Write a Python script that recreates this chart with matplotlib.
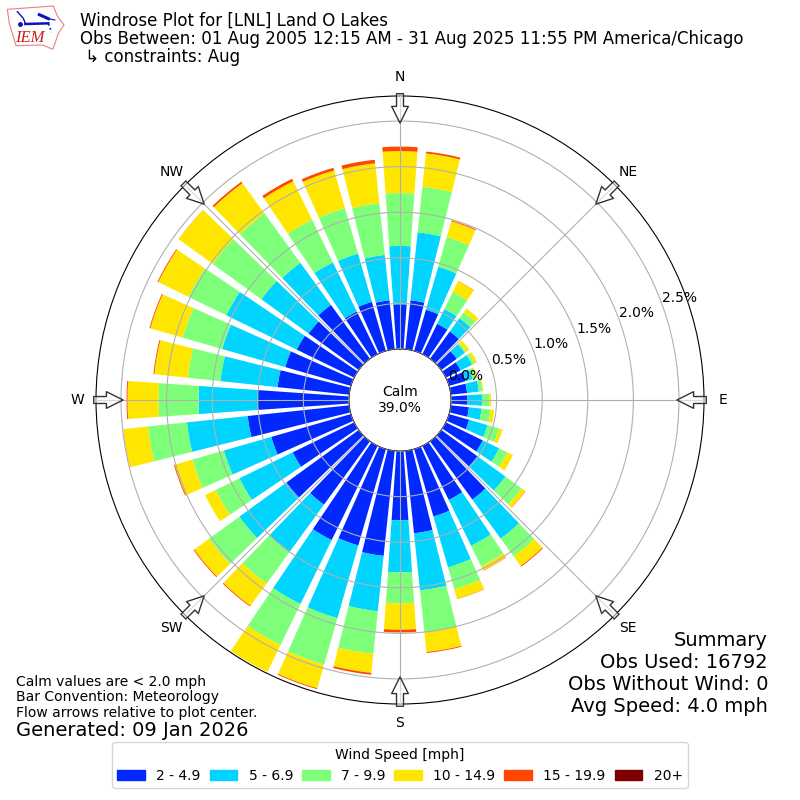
import matplotlib
matplotlib.use("Agg")
import matplotlib.pyplot as plt
import numpy as np
from matplotlib.patches import Patch, Polygon

# direction the wind is coming from, degrees
directions = list(range(10, 370, 10))

speed_2_5 = [.54, .47, .37, .37, .21, .18, .19, .18, .18, .20, .23, .45,
             .49, .79, .66, .77, .91, .76, 1.16, 1.10, 1.15, .86, .98, .75,
             .91, 1.12, 1.00, .79, .75, .70, .68, .73, .52, .56, .54, .49]
speed_5_7 = [.75, .49, .18, .18, .11, .14, .08, .13, .16, .14, .21, .20,
             .38, .53, .56, .58, .63, .57, .61, .83, .78, .64, .64, .65,
             .54, .67, .65, .63, .72, .86, .64, .57, .60, .55, .50, .64]
speed_7_10 = [.50, .34, .21, .08, .02, .03, .04, .04, .08, .10, .13, .10,
              .22, .24, .25, .25, .46, .34, .47, .53, .50, .43, .41, .29,
              .36, .43, .44, .36, .45, .46, .66, .67, .52, .52, .57, .58]
speed_10_15 = [.37, .18, .13, .05, .04, .03, .01, .01, .02, .04, .04, .07,
               .05, .13, .05, .11, .22, .29, .21, .27, .33, .30, .20, .13,
               .20, .27, .34, .37, .37, .37, .46, .41, .47, .43, .44, .46]
speed_15_20 = [.02, .01, .003, 0, 0, 0, 0, 0, 0, 0, 0, 0,
               .003, .01, .004, .003, .01, .03, .02, .01, 0, .01, .01, 0,
               .01, .002, .01, .01, .01, .01, .002, .02, .03, .03, .04, .05]
speed_20 = [0] * 36

bins = [speed_2_5, speed_5_7, speed_7_10, speed_10_15, speed_15_20, speed_20]
labels = ["2 - 4.9", "5 - 6.9", "7 - 9.9", "10 - 14.9", "15 - 19.9", "20+"]
colors = ["#0028ff", "#00d4ff", "#7dff7a", "#ffe600", "#ff4700", "#800000"]

compass = ["N", "NE", "E", "SE", "S", "SW", "W", "NW"]
rticks = [0, 0.5, 1.0, 1.5, 2.0, 2.5]

fig = plt.figure(figsize=(8, 8), dpi=100)
ax = fig.add_axes([96 / 800, 96 / 800, 608 / 800, 608 / 800], projection="polar")
ax.set_theta_zero_location("N")
ax.set_theta_direction(-1)
ax.set_axisbelow(False)

theta = np.radians(directions)
bottom = np.zeros(36)
for vals, color in zip(bins, colors):
    ax.bar(theta, vals, width=np.radians(8), bottom=bottom, color=color, linewidth=0, zorder=2)
    bottom += np.array(vals)

ax.set_rorigin(-0.56)
ax.set_ylim(0, 2.775)
ax.set_yticks(rticks)
ax.set_yticklabels([f"{t:.1f}%" for t in rticks])
ax.set_rlabel_position(70)
ax.set_xticks(np.radians(np.arange(0, 360, 45)))
ax.set_xticklabels(compass)
ax.tick_params(axis="x", pad=3)
ax.grid(True, color="#b0b0b0", linewidth=0.8)

# hollow arrows pointing at the centre
for t in np.radians(np.arange(0, 360, 45)):
    ax.annotate("", xy=(t, 2.478), xytext=(t, 2.8), annotation_clip=False, zorder=5,
                arrowprops=dict(facecolor=(1, 1, 1, 0.5), edgecolor="#333333", linewidth=1,
                                width=5, headwidth=12, headlength=12, shrink=0))

ax.text(0.5, 0.5, "Calm\n39.0%", transform=ax.transAxes, ha="center", va="center", fontsize=10, zorder=6)

fig.text(80 / 800, 1 - 12 / 800, "Windrose Plot for [LNL] Land O Lakes\n"
         "Obs Between: 01 Aug 2005 12:15 AM - 31 Aug 2025 11:55 PM America/Chicago\n"
         " ↳ constraints: Aug", fontsize=12, va="top", linespacing=1.0)
fig.text(16 / 800, 1 - 720 / 800, "Calm values are < 2.0 mph\nBar Convention: Meteorology\n"
         "Flow arrows relative to plot center.", fontsize=10, va="bottom", linespacing=1.15)
fig.text(16 / 800, 1 - 740 / 800, "Generated: 09 Jan 2026", fontsize=14, va="bottom")
fig.text(768 / 800, 1 - 716 / 800, "Summary\nObs Used: 16792\nObs Without Wind: 0\nAvg Speed: 4.0 mph",
         fontsize=14, ha="right", va="bottom", linespacing=1.19)

handles = [Patch(color=c) for c in colors]
fig.legend(handles, labels, title="Wind Speed [mph]", loc="lower center", ncol=6,
           bbox_to_anchor=(0.5, 0.006), fontsize=10, title_fontsize=10, columnspacing=0.65)

# IEM logo, drawn roughly
logo = fig.add_axes([0, 1 - 70 / 800, 260 / 800, 70 / 800])
logo.set_xlim(0, 780)
logo.set_ylim(210, 0)
logo.axis("off")
outline = [(22, 28), (160, 18), (172, 48), (192, 75), (175, 100), (165, 130), (158, 148), (128, 135), (48, 137), (40, 110), (28, 70)]
logo.add_patch(Polygon(outline, closed=True, fill=False, edgecolor="#e88080", linewidth=0.8))
logo.plot([52, 70, 76], [35, 55, 70], color="#1010c0", linewidth=1)
logo.plot([76, 145], [72, 70], color="#1010c0", linewidth=1.8)
logo.plot([118, 145], [44, 56], color="#1010c0", linewidth=2.2)
logo.plot([145, 165], [56, 60], color="#1010c0", linewidth=0.8)
logo.plot([145, 155], [72, 97], color="#1010c0", linewidth=1.2, linestyle=":")
logo.plot([60], [72], marker="o", markersize=2.5, color="#1010c0")
logo.text(90, 115, "IEM", fontsize=12, family="Liberation Serif", style="italic", color="#cc2020", ha="center", va="center")

plt.savefig("out.png", dpi=100)
